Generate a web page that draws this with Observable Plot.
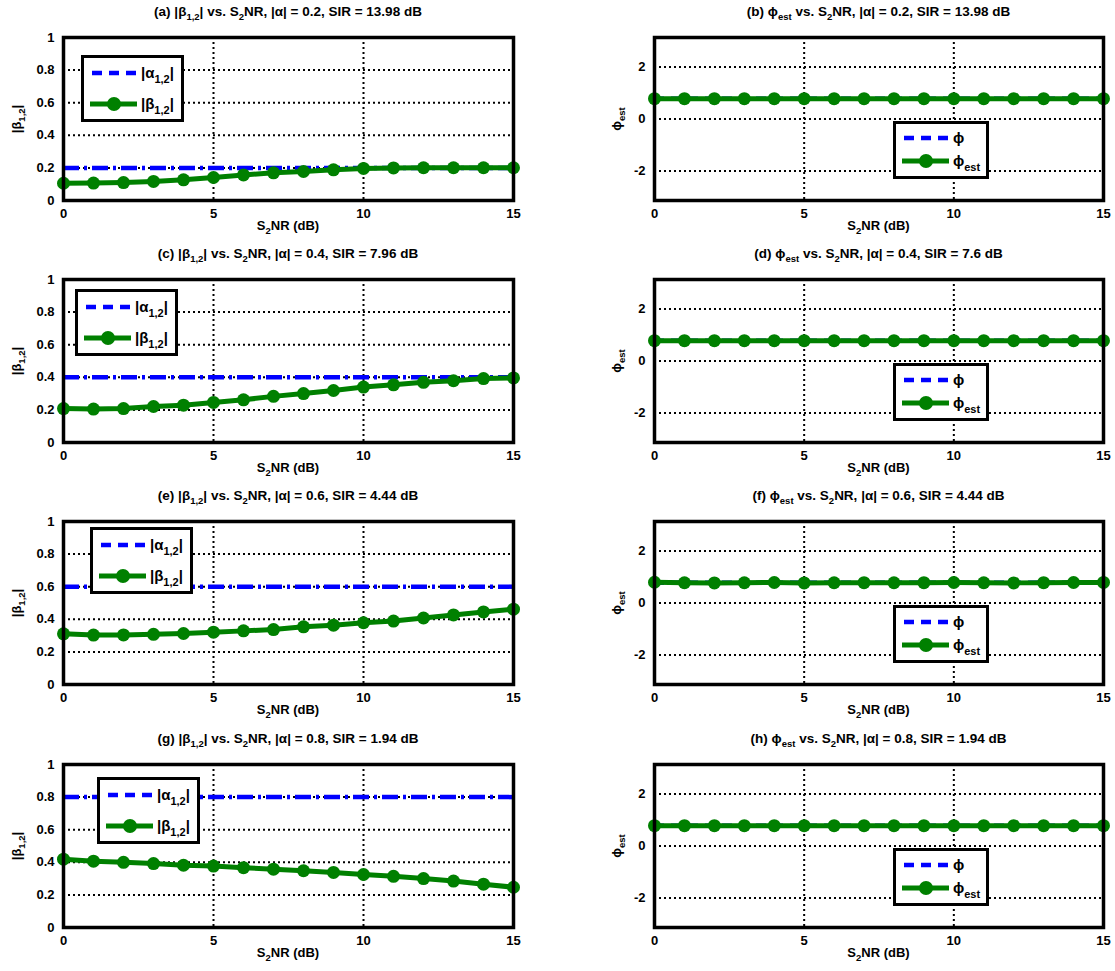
<!DOCTYPE html>
<html>
<head>
<meta charset="utf-8">
<script src="https://cdn.jsdelivr.net/npm/d3@7"></script>
<script src="https://cdn.jsdelivr.net/npm/@observablehq/plot@0.6"></script>
<style>
  body { margin: 0; background: #fff; }
  #fig { position: relative; width: 1115px; height: 971px; background: #fff;
         font-family: "Liberation Sans", Arial, Helvetica, sans-serif; font-weight: bold; color: #000; }
  .abs { position: absolute; white-space: nowrap; }
  .title { font-size: 13.5px; line-height: 16px; transform: translateX(-50%); }
  .xlab { font-size: 13px; line-height: 16px; transform: translateX(-50%); }
  .ylab { font-size: 13px; line-height: 16px; transform: translate(-50%, -50%) rotate(-90deg); }
  .sb { font-size: 9.5px; position: relative; top: 4px; }
  .legend { border: 3px solid #000; background: #fff; box-sizing: border-box; }
  .legend .row { position: absolute; left: 5px; display: flex; align-items: center; font-size: 15px; }
  .legend .row .sb { font-size: 11px; top: 5px; }
  .legend svg { display: block; margin-right: 3px; }
</style>
</head>
<body>
<div id="fig"></div>
<script>
// S2NR sweep (dB)
const snrDb = [0, 1, 2, 3, 4, 5, 6, 7, 8, 9, 10, 11, 12, 13, 14, 15];
const xTicks = [0, 5, 10, 15];
const betaTicks = [0, 0.2, 0.4, 0.6, 0.8, 1];
const phiTicks = [-2, 0, 2];

// true interference magnitude |alpha_{1,2}| and resulting SIR per row
const alphaMag = [0.2, 0.4, 0.6, 0.8];
const sirBetaDb = ["13.98", "7.96", "4.44", "1.94"];
const sirPhiDb = ["13.98", "7.6", "4.44", "1.94"];

// estimated magnitude |beta_{1,2}| vs S2NR
const betaA = [0.106, 0.107, 0.110, 0.117, 0.127, 0.141, 0.157, 0.170, 0.178, 0.188, 0.197, 0.200, 0.201, 0.201, 0.201, 0.201];
const betaC = [0.208, 0.205, 0.208, 0.221, 0.229, 0.246, 0.262, 0.283, 0.300, 0.319, 0.340, 0.354, 0.369, 0.379, 0.392, 0.396];
const betaE = [0.311, 0.303, 0.304, 0.308, 0.313, 0.321, 0.329, 0.337, 0.354, 0.364, 0.379, 0.389, 0.408, 0.427, 0.445, 0.462];
const betaG = [0.419, 0.407, 0.400, 0.392, 0.382, 0.377, 0.367, 0.358, 0.348, 0.338, 0.325, 0.314, 0.300, 0.285, 0.266, 0.247];

// true phase phi and estimated phase phi_est (rad)
const phiTrue = 0.785;
const phiEstB = [0.785, 0.785, 0.785, 0.785, 0.785, 0.785, 0.785, 0.785, 0.785, 0.785, 0.785, 0.785, 0.785, 0.785, 0.785, 0.785];
const phiEstD = [0.785, 0.785, 0.785, 0.785, 0.785, 0.785, 0.785, 0.785, 0.785, 0.785, 0.785, 0.785, 0.785, 0.785, 0.785, 0.785];
const phiEstF = [0.800, 0.780, 0.775, 0.780, 0.790, 0.775, 0.780, 0.785, 0.780, 0.785, 0.790, 0.780, 0.775, 0.785, 0.790, 0.795];
const phiEstH = [0.785, 0.785, 0.785, 0.785, 0.785, 0.785, 0.785, 0.785, 0.785, 0.785, 0.785, 0.785, 0.785, 0.785, 0.785, 0.785];

const BLUE = "#0000ff", GREEN = "#008000";

// page layout: frame tops of the four rows, frame size, margins
const rowTop = [37, 279, 521, 764];
const frameH = 163;
const mTop = 8, mBottom = 25, mLeft = 63, mRight = 12;
const colLeft = [63, 654];
const frameW = [450, 449];

const betaLegendPos = [[81, 18], [75, 10], [90, 6], [97, 13]];
const phiLegendPos = [[893, 84], [893, 84], [893, 84], [893, 84]];

const betaSeries = [betaA, betaC, betaE, betaG];
const phiSeries = [phiEstB, phiEstD, phiEstF, phiEstH];
const tagsBeta = ["a", "c", "e", "g"];
const tagsPhi = ["b", "d", "f", "h"];

const fig = document.getElementById("fig");
const sub = s => `<span class="sb">${s}</span>`;

function addDiv(cls, html, left, top) {
  const d = document.createElement("div");
  d.className = "abs " + cls;
  d.innerHTML = html;
  d.style.left = left + "px";
  d.style.top = top + "px";
  fig.appendChild(d);
  return d;
}

const dotted = {stroke: "#000", strokeOpacity: 1, strokeWidth: 2, strokeDasharray: "2,3"};

function panel({col, row, yDomain, yTicks, ref, series}) {
  const rows = snrDb.map((s, i) => ({snr: s, v: series[i]}));
  const chart = Plot.plot({
    width: mLeft + frameW[col] + mRight,
    height: mTop + frameH + mBottom,
    marginLeft: mLeft, marginRight: mRight, marginTop: mTop, marginBottom: mBottom,
    style: "font: bold 13px 'Liberation Sans', Arial, sans-serif; color: #000; background: transparent; overflow: visible;",
    x: {domain: [0, 15]},
    y: {domain: yDomain},
    marks: [
      Plot.gridX(xTicks, dotted),
      Plot.gridY(yTicks, dotted),
      Plot.axisX(xTicks, {tickSize: 0, tickPadding: 8, label: null, tickFormat: d => String(d)}),
      Plot.axisY(yTicks, {tickSize: 0, tickPadding: 9, label: null, tickFormat: d => String(d)}),
      ref,
      Plot.line(rows, {x: "snr", y: "v", stroke: GREEN, strokeWidth: 5}),
      Plot.dot(rows, {x: "snr", y: "v", r: 6.5, fill: GREEN, stroke: "none"}),
      Plot.frame({stroke: "#000", strokeWidth: 3.5})
    ]
  });
  chart.style.position = "absolute";
  chart.style.left = (colLeft[col] - mLeft) + "px";
  chart.style.top = (rowTop[row] - mTop) + "px";
  fig.appendChild(chart);
}

function legendSample(kind) {
  const ns = "http://www.w3.org/2000/svg";
  const svg = document.createElementNS(ns, "svg");
  svg.setAttribute("width", 49);
  svg.setAttribute("height", 16);
  if (kind === "dash") {
    svg.innerHTML = `<line x1="3" y1="8" x2="48" y2="8" stroke="${BLUE}" stroke-width="4.5" stroke-dasharray="10,7"/>`;
  } else {
    svg.innerHTML = `<line x1="1" y1="8" x2="48" y2="8" stroke="${GREEN}" stroke-width="5"/><circle cx="25" cy="8" r="7" fill="${GREEN}"/>`;
  }
  return svg;
}

function legend(left, top, w, h, entries) {
  const box = addDiv("legend", "", left, top);
  box.style.width = w + "px";
  box.style.height = h + "px";
  entries.forEach(([kind, html, y]) => {
    const r = document.createElement("div");
    r.className = "row";
    r.style.top = y + "px";
    r.appendChild(legendSample(kind));
    const t = document.createElement("span");
    t.innerHTML = html;
    r.appendChild(t);
    box.appendChild(r);
  });
}

for (let row = 0; row < 4; row++) {
  const T = rowTop[row];
  // left column: magnitude estimate
  panel({
    col: 0, row, yDomain: [0, 1], yTicks: betaTicks,
    ref: Plot.ruleY([alphaMag[row]], {stroke: BLUE, strokeWidth: 4.5, strokeDasharray: "16,5,3,5"}),
    series: betaSeries[row]
  });
  const cxL = colLeft[0] + frameW[0] / 2;
  addDiv("title", `(${tagsBeta[row]}) |β${sub("1,2")}| vs. S${sub("2")}NR, |α| = ${alphaMag[row]}, SIR = ${sirBetaDb[row]} dB`, cxL, T - 33);
  addDiv("xlab", `S${sub("2")}NR (dB)`, cxL, T + frameH + 18);
  addDiv("ylab", `|β${sub("1,2")}|`, 17, T + frameH / 2);
  legend(betaLegendPos[row][0], T + betaLegendPos[row][1], 103, 67, [
    ["dash", `|α${sub("1,2")}|`, 6],
    ["line", `|β${sub("1,2")}|`, 37]
  ]);

  // right column: phase estimate
  panel({
    col: 1, row, yDomain: [-3.1416, 3.1416], yTicks: phiTicks,
    ref: Plot.ruleY([phiTrue], {stroke: BLUE, strokeWidth: 4.5, strokeDasharray: "10,7"}),
    series: phiSeries[row]
  });
  const cxR = colLeft[1] + frameW[1] / 2;
  addDiv("title", `(${tagsPhi[row]}) ϕ${sub("est")} vs. S${sub("2")}NR, |α| = ${alphaMag[row]}, SIR = ${sirPhiDb[row]} dB`, cxR, T - 33);
  addDiv("xlab", `S${sub("2")}NR (dB)`, cxR, T + frameH + 18);
  addDiv("ylab", `ϕ${sub("est")}`, 617, T + frameH / 2);
  legend(phiLegendPos[row][0], T + phiLegendPos[row][1], 96, 58, [
    ["dash", `ϕ`, 5],
    ["line", `ϕ${sub("est")}`, 28]
  ]);
}
</script>
</body>
</html>
